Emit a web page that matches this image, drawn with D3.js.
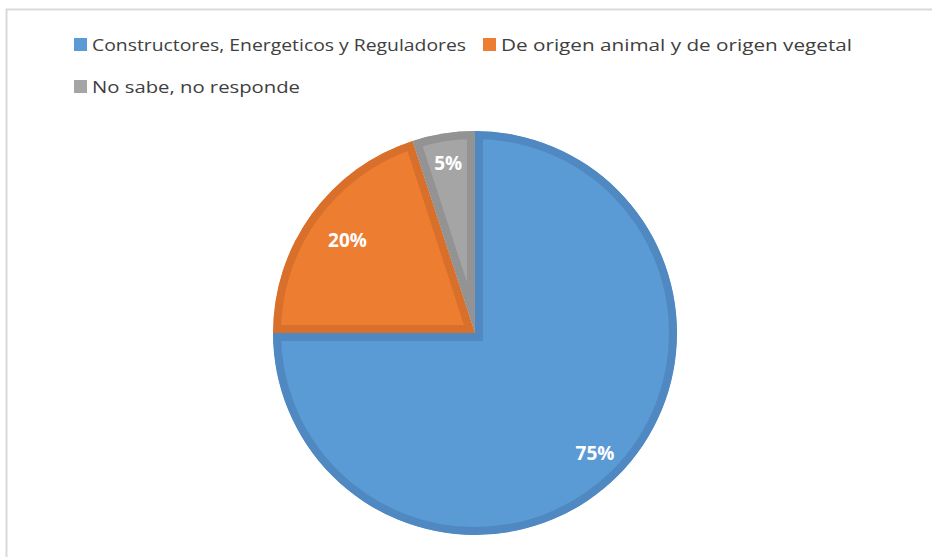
<!DOCTYPE html>
<html><head><meta charset="utf-8">
<script src="https://cdn.jsdelivr.net/npm/d3@7"></script>
<style>html,body{margin:0;padding:0;background:#fff;}svg{display:block;}</style>
</head><body>
<svg id="chart" width="932" height="557"></svg>
<script>
const categories = ["Constructores, Energeticos y Reguladores", "De origen animal y de origen vegetal", "No sabe, no responde"];
const values = [75, 20, 5];
const labels = ["75%", "20%", "5%"];
const fills = ["#5B9BD5", "#ED7D31", "#A5A5A5"];
const borders = ["#5089C1", "#D8702B", "#939393"];

const svg = d3.select("#chart");
// frame
svg.append("path").attr("d", "M6.5,557 L6.5,9.5 L932,9.5")
  .attr("fill", "none").attr("stroke", "#d9d9d9").attr("stroke-width", 2);

// legend
const legendItems = [
  {i:0, x:74, y:45, w:374},
  {i:1, x:483, y:45, w:351},
  {i:2, x:74, y:87, w:208}
];
const lg = svg.append("g");
legendItems.forEach(d => {
  lg.append("rect").attr("x", d.x).attr("y", d.y - 7).attr("width", 13).attr("height", 13).attr("fill", fills[d.i]);
  lg.append("text").attr("x", d.x + 18).attr("y", d.y + 6)
    .attr("font-family", "'Open Sans', sans-serif").attr("font-size", 17).attr("fill", "#404040")
    .attr("textLength", d.w).attr("lengthAdjust", "spacingAndGlyphs")
    .text(categories[d.i]);
});

// pie
const cx = 475, cy = 333, R = 202;
const pie = d3.pie().sort(null).value(d => d);
const arcs = pie(values);
const arc = d3.arc().innerRadius(0).outerRadius(R);
const labelRadius = [0.84, 0.78, 0.85];
const g = svg.append("g").attr("transform", `translate(${cx},${cy})`);
const defs = svg.append("defs");
arcs.forEach((a, i) => {
  defs.append("clipPath").attr("id", "clip" + i).append("path").attr("d", arc(a));
});
g.selectAll("path.slice").data(arcs).join("path").attr("class", "slice")
  .attr("d", arc)
  .attr("fill", (d, i) => fills[i])
  .attr("stroke", (d, i) => borders[i])
  .attr("stroke-width", 16)
  .attr("stroke-linejoin", "miter")
  .attr("clip-path", (d, i) => `url(#clip${i})`);

g.selectAll("text.lbl").data(arcs).join("text").attr("class", "lbl")
  .attr("transform", (d, i) => {
    const r = R * labelRadius[i];
    const [x, y] = d3.arc().innerRadius(r).outerRadius(r).centroid(d);
    return `translate(${x},${y})`;
  })
  .attr("text-anchor", "middle").attr("dy", "0.35em")
  .attr("font-family", "'Open Sans', sans-serif").attr("font-weight", "bold")
  .attr("font-size", 19).attr("fill", "#fff")
  .text((d, i) => labels[i]);
</script>
</body></html>
